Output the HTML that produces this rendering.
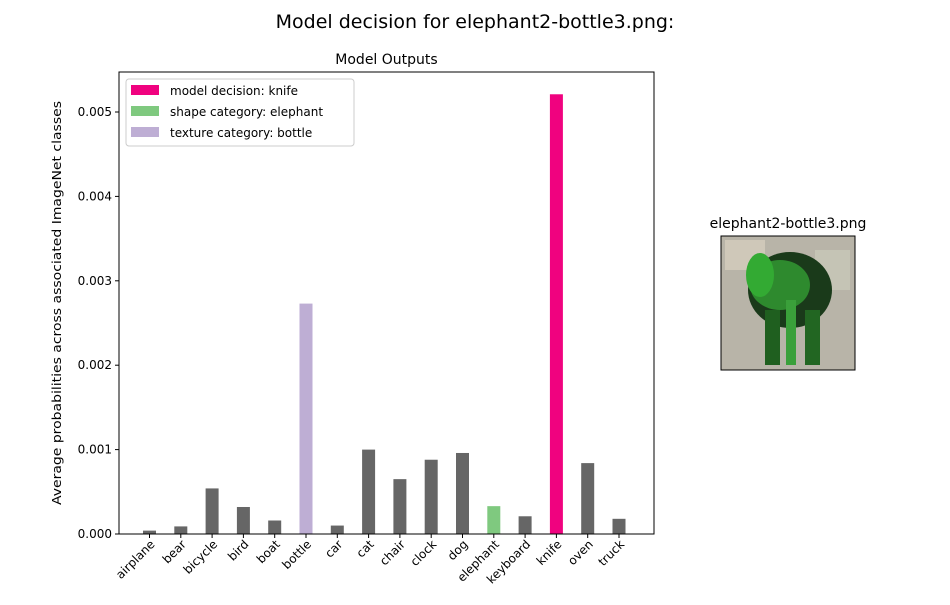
<!DOCTYPE html>
<html><head><meta charset="utf-8"><style>
body{margin:0;background:#fff;font-family:"Liberation Sans","DejaVu Sans",sans-serif;}
svg text{font-family:"DejaVu Sans","Liberation Sans",sans-serif;}
</style></head><body>
<svg id="chart" width="950" height="600" xmlns="http://www.w3.org/2000/svg">
<text x="475" y="28" font-size="19" text-anchor="middle">Model decision for elephant2-bottle3.png:</text>
<text x="386.5" y="64" font-size="14" text-anchor="middle">Model Outputs</text>
<text transform="translate(61,303) rotate(-90)" font-size="12.5" text-anchor="middle" textLength="404" lengthAdjust="spacingAndGlyphs">Average probabilities across associated ImageNet classes</text>
<g id="bars"></g><g id="yticks"></g><g id="xticks"></g>
<rect x="119" y="72" width="535" height="462" fill="none" stroke="#000" stroke-width="1"/>
<g>
<rect x="126" y="79" width="228" height="67" fill="#fff" stroke="#ccc" rx="3"/>
<rect x="131" y="85" width="28" height="10" fill="#f0027f"/>
<text x="170" y="95" font-size="12">model decision: knife</text>
<rect x="131" y="106" width="28" height="10" fill="#7fc97f"/>
<text x="170" y="116" font-size="12">shape category: elephant</text>
<rect x="131" y="127" width="28" height="10" fill="#beaed4"/>
<text x="170" y="137" font-size="12">texture category: bottle</text>
</g>
<text x="788" y="228" font-size="14" text-anchor="middle">elephant2-bottle3.png</text>
<g>
<rect x="721" y="236" width="134" height="134" fill="#b8b4a8"/>
<rect x="725" y="240" width="40" height="30" fill="#d8d0c0" opacity="0.7"/>
<rect x="815" y="250" width="35" height="40" fill="#c8c8b8" opacity="0.8"/>
<ellipse cx="790" cy="290" rx="42" ry="38" fill="#1a3a1a"/>
<ellipse cx="780" cy="285" rx="30" ry="25" fill="#2e8a2e"/>
<rect x="765" y="310" width="15" height="55" fill="#1f5f1f"/>
<rect x="805" y="310" width="15" height="55" fill="#226622"/>
<rect x="786" y="300" width="10" height="65" fill="#3aa03a"/>
<ellipse cx="760" cy="275" rx="14" ry="22" fill="#33aa33"/>
<rect x="721" y="236" width="134" height="134" fill="none" stroke="#000"/>
</g>
</svg>
<script>
const categories=["airplane","bear","bicycle","bird","boat","bottle","car","cat","chair","clock","dog","elephant","keyboard","knife","oven","truck"];
const values=[0.00004,0.00009,0.00054,0.00032,0.00016,0.00273,0.00010,0.00100,0.00065,0.00088,0.00096,0.00033,0.00021,0.00521,0.00084,0.00018];
const yTicks=[0,0.001,0.002,0.003,0.004,0.005];
const yTickLabels=["0.000","0.001","0.002","0.003","0.004","0.005"];
const decision="knife", shape="elephant", texture="bottle";
const NS="http://www.w3.org/2000/svg";
const y=v=>534-v/0.005*422;
const x=i=>149.5+i*31.3;
function mk(t,a,p){const e=document.createElementNS(NS,t);for(const k in a)e.setAttribute(k,a[k]);p.appendChild(e);return e;}
const bars=document.getElementById('bars'),yt=document.getElementById('yticks'),xt=document.getElementById('xticks');
categories.forEach((c,i)=>{
 const col=c===decision?"#f0027f":c===shape?"#7fc97f":c===texture?"#beaed4":"#666666";
 const r=mk('rect',{x:x(i)-6.5,y:y(values[i]),width:13,height:534-y(values[i]),fill:col},bars);
 
 
 mk('line',{x1:x(i),x2:x(i),y1:534,y2:538,stroke:'#000'},xt);
 const t=mk('text',{'font-size':12,'text-anchor':'end',transform:`translate(${x(i)+6},${545}) rotate(-45)`},xt);
 t.textContent=c;
 
 
});
yTicks.forEach((v,i)=>{
 mk('line',{x1:115,x2:119,y1:y(v),y2:y(v),stroke:'#000'},yt);
 const t=mk('text',{x:112,y:y(v)+4,'font-size':12,'text-anchor':'end'},yt);
 t.textContent=yTickLabels[i];
 
 
});
</script>
</body></html>
